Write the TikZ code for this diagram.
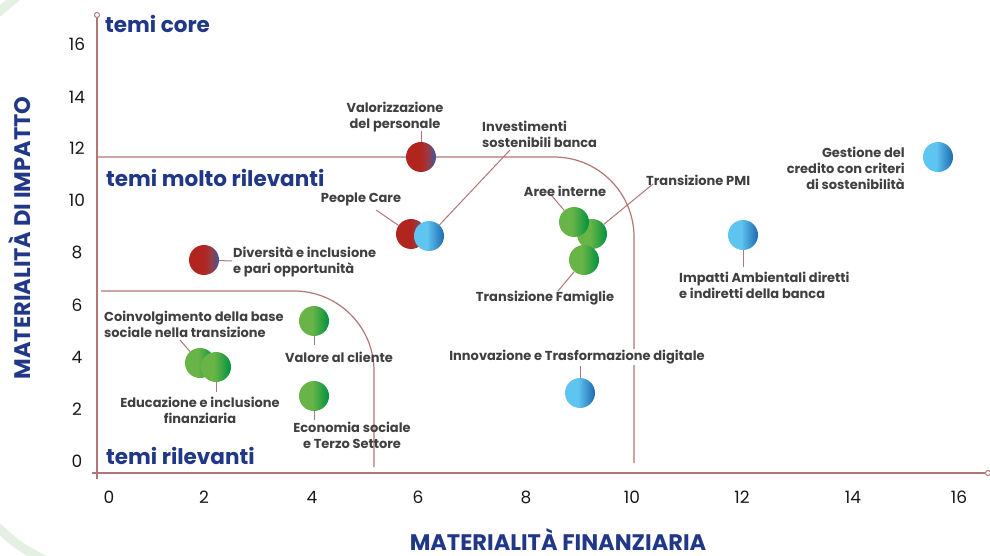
\documentclass[tikz,border=0pt]{standalone}
\usepackage{fontspec}
\setmainfont{Poppins}
\definecolor{axc}{RGB}{178,118,118}
\definecolor{labc}{RGB}{64,64,64}
\definecolor{titc}{RGB}{32,56,135}
\definecolor{tickc}{RGB}{25,25,25}
\definecolor{ringc}{RGB}{228,240,226}
\definecolor{rA}{RGB}{178,36,30}
\definecolor{rM}{RGB}{150,60,70}
\definecolor{rB}{RGB}{62,88,160}
\definecolor{bA}{RGB}{94,196,240}
\definecolor{bB}{RGB}{30,105,175}
\definecolor{gA}{RGB}{104,180,70}
\definecolor{gB}{RGB}{0,145,65}
\pgfdeclarehorizontalshading{redblue}{100bp}{color(0bp)=(rA); color(25bp)=(rA); color(48bp)=(rA); color(62bp)=(rM); color(75bp)=(rB); color(100bp)=(rB)}
\pgfdeclarehorizontalshading{bluegr}{100bp}{color(0bp)=(bA); color(25bp)=(bA); color(47bp)=(bA); color(75bp)=(bB); color(100bp)=(bB)}
\pgfdeclarehorizontalshading{greengr}{100bp}{color(0bp)=(gA); color(25bp)=(gA); color(47bp)=(gA); color(75bp)=(gB); color(100bp)=(gB)}
\tikzset{
  dot/.style={circle, minimum size=30pt, inner sep=0pt, shade, shading=#1},
  lab/.style={font=\fontsize{13}{16.3}\selectfont\bfseries, text=labc, inner sep=0pt, align=center},
  reg/.style={font=\fontsize{21.5}{24}\selectfont\bfseries, text=titc, inner sep=0pt, anchor=west},
  axt/.style={font=\fontsize{22.5}{24}\selectfont\bfseries, text=titc, inner sep=0pt},
  tick/.style={font=\fontsize{17}{19}\selectfont, text=tickc, inner sep=0pt},
  axline/.style={draw=axc, line width=1.2pt},
  lead/.style={draw=axc, line width=1pt},
  endc/.style={circle, draw=axc, fill=white, line width=1pt, minimum size=5pt, inner sep=0pt},
  bgring/.style={draw=ringc, line width=9pt}
}
\begin{document}
\begin{tikzpicture}[x=1pt,y=-1pt]
\useasboundingbox (0,0) rectangle (990,556);
\fill[white] (0,0) rectangle (990,556);
\begin{scope}
  \clip (0,0) rectangle (990,556);
  \draw[bgring] (-4,14) .. controls (6,6) .. (20,-6);
  \draw[bgring] (-6,524) .. controls (18,546) .. (52,564);
\end{scope}

% region boundaries
\draw[axline, rounded corners=80pt] (97,157) -- (634,157) -- (634,463);
\draw[axline, rounded corners=80pt] (101,291) -- (374,291) -- (374,467);

% axes
\node[endc] (ytop) at (97,15) {};
\node[endc] (xend) at (988,473) {};
\coordinate (ybot) at (97,479);
\coordinate (xbeg) at (92,473);
\draw[axline] (ybot) -- (ytop);
\draw[axline] (xbeg) -- (xend);

% tick labels
\foreach \v/\px in {0/109,2/204,4/312,6/418,8/526,10/632,12/742,14/853,16/959}
  \node[tick] (tx\v) at (\px,497) {\v};
\foreach \v/\py in {0/461,2/409,4/357,6/305,8/252,10/200,12/148,14/97,16/44}
  \node[tick] (ty\v) at (77,\py) {\v};

% axis titles
\node[axt, rotate=90] (ytit) at (20,238) {MATERIALITÀ DI IMPATTO};
\node[axt, anchor=base] (xtit) at (558,550) {MATERIALITÀ FINANZIARIA};

% region titles
\node[reg] (rcore) at (105,24) {temi core};
\node[reg] (rmolto) at (106,178) {temi molto rilevanti};
\node[reg] (rril) at (106,456) {temi rilevanti};

% circles
\node[dot=redblue] (valp) at (421,157) {};
\node[dot=redblue] (pc) at (411,234) {};
\node[dot=bluegr] (inv) at (429,236) {};
\node[dot=greengr] (pmi) at (592,234) {};
\node[dot=greengr] (aree) at (574,222) {};
\node[dot=greengr] (fam) at (584,260) {};
\node[dot=bluegr] (gest) at (938,157) {};
\node[dot=bluegr] (imp) at (743,235) {};
\node[dot=bluegr] (inn) at (580,393) {};
\node[dot=redblue] (div) at (204,260) {};
\node[dot=greengr] (coi) at (200,363) {};
\node[dot=greengr] (edu) at (216,367) {};
\node[dot=greengr] (valc) at (314,321) {};
\node[dot=greengr] (eco) at (314,396) {};

% leader ends
\coordinate (cval) at (421,131);
\coordinate (cinv) at (510,150);
\coordinate (cpc) at (376,210);
\coordinate (caree) at (552,196);
\coordinate (cpmi) at (653,184);
\coordinate (cfam) at (558,291);
\coordinate (cimp) at (743,267);
\coordinate (cinn) at (580,366);
\coordinate (cdiv) at (232,261);
\coordinate (ccoi) at (180,340);
\coordinate (cedu) at (216,392);
\coordinate (cvalc) at (314,345);
\coordinate (ceco) at (314,420);

\draw[lead] (valp) -- (cval);
\draw[lead] (inv) -- (cinv);
\draw[lead] (pc) -- (cpc);
\draw[lead] (aree) -- (caree);
\draw[lead] (pmi) -- (cpmi);
\draw[lead] (fam) -- (cfam);
\draw[lead] (imp) -- (cimp);
\draw[lead] (inn) -- (cinn);
\draw[lead] (div) -- (cdiv);
\draw[lead] (coi) -- (ccoi);
\draw[lead] (edu) -- (cedu);
\draw[lead] (valc) -- (cvalc);
\draw[lead] (eco) -- (ceco);

% labels
\node[lab] (lval) at (395,117) {Valorizzazione\\del personale};
\node[lab, anchor=west, align=left] (linv) at (482,134.5) {Investimenti\\sostenibili banca};
\node[lab] (lpc) at (361,199) {People Care};
\node[lab] (laree) at (565,191) {Aree interne};
\node[lab, anchor=west] (lpmi) at (646,180) {Transizione PMI};
\node[lab, anchor=east, align=right] (lgest) at (905,168.5) {Gestione del\\credito con criteri\\di sostenibilità};
\node[lab, anchor=west, align=left] (limp) at (679,285) {Impatti Ambientali diretti\\e indiretti della banca};
\node[lab] (lfam) at (545,298) {Transizione Famiglie};
\node[lab, anchor=west, align=left] (ldiv) at (233,261.5) {Diversità e inclusione\\e pari opportunità};
\node[lab, anchor=west, align=left] (lcoi) at (104,324) {Coinvolgimento della base\\sociale nella transizione};
\node[lab] (ledu) at (200,410) {Educazione e inclusione\\finanziaria};
\node[lab] (lvalc) at (339,357) {Valore al cliente};
\node[lab] (leco) at (352,435) {Economia sociale\\e Terzo Settore};
\node[lab, fill=white, inner sep=1pt] (linn) at (577,357) {Innovazione e Trasformazione digitale};
\end{tikzpicture}
\end{document}
